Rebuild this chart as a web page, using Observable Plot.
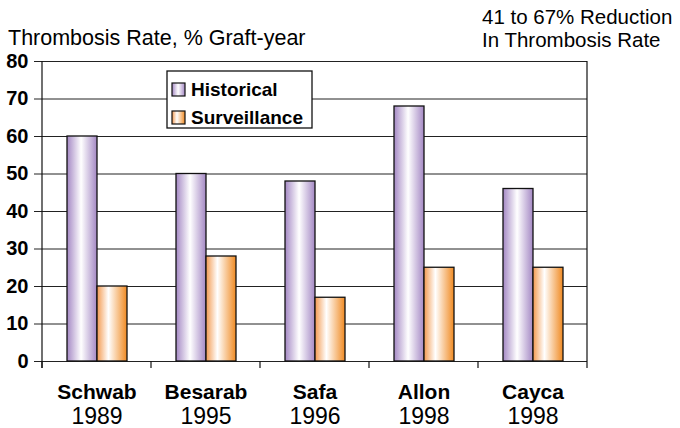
<!DOCTYPE html>
<html><head><meta charset="utf-8">
<script src="https://cdn.jsdelivr.net/npm/d3@7"></script>
<script src="https://cdn.jsdelivr.net/npm/@observablehq/plot@0.6"></script>
<style>body{margin:0;background:#fff;font-family:"Liberation Sans",Arial,Helvetica,sans-serif}</style>
</head><body><div id="chart"></div>
<script>
const studies = ["Schwab", "Besarab", "Safa", "Allon", "Cayca"];
const years = ["1989", "1995", "1996", "1998", "1998"];
const series = ["Historical", "Surveillance"];
const historical = [60, 50, 48, 68, 46];
const surveillance = [20, 28, 17, 25, 25];
const yTicks = [0, 10, 20, 30, 40, 50, 60, 70, 80];
const titleText = "Thrombosis Rate, % Graft-year";
const noteLines = ["41 to 67% Reduction", "In Thrombosis Rate"];

const rows = studies.flatMap((s, i) => [
  {study: s, series: "Historical", value: historical[i]},
  {study: s, series: "Surveillance", value: surveillance[i]}
]);
const labels = studies.map((s, i) => ({study: s, year: years[i]}));
const font = '"Liberation Sans", Arial, Helvetica, sans-serif';

const plot = Plot.plot({
  width: 680, height: 428,
  marginLeft: 41, marginRight: 92, marginTop: 61, marginBottom: 67,
  style: {fontFamily: font, background: "#fff", color: "#000", overflow: "visible"},
  fx: {domain: studies, padding: 0, axis: null},
  x: {domain: series, paddingInner: 0, paddingOuter: 0.765, axis: null},
  y: {domain: [0, 80], ticks: yTicks, axis: null},
  marks: [
    Plot.gridY(yTicks, {stroke: "#222", strokeOpacity: 1, strokeWidth: 1}),
    Plot.barY(rows.filter(d => d.series === "Historical"), {fx: "study", x: "series", y: "value", fill: "url(#gradHist)", stroke: "#111", strokeWidth: 1.3}),
    Plot.barY(rows.filter(d => d.series === "Surveillance"), {fx: "study", x: "series", y: "value", fill: "url(#gradSurv)", stroke: "#111", strokeWidth: 1.3}),
    Plot.axisY(yTicks, {label: null, tickSize: 8, tickPadding: 6, fontSize: 20, fontWeight: "bold", tickFormat: d => String(d), stroke: "#222"}),
    Plot.text(labels, {fx: "study", text: "study", frameAnchor: "bottom", lineAnchor: "bottom", dy: 37, fontSize: 21, fontWeight: "bold", fill: "#000"}),
    Plot.text(labels, {fx: "study", text: "year", frameAnchor: "bottom", lineAnchor: "bottom", dy: 62, fontSize: 23, fill: "#000"})
  ]
});
document.getElementById("chart").appendChild(plot);

const svg = d3.select(plot.tagName.toLowerCase() === "svg" ? plot : plot.querySelector("svg"));
const defs = svg.insert("defs", ":first-child");
function grad(id, stops) {
  const g = defs.append("linearGradient").attr("id", id).attr("x1", "0").attr("x2", "1").attr("y1", "0").attr("y2", "0");
  stops.forEach(([o, c]) => g.append("stop").attr("offset", o).attr("stop-color", c));
}
grad("gradHist", [[0, "#a488c4"], [0.47, "#ffffff"], [1, "#a488c4"]]);
grad("gradSurv", [[0, "#f39a50"], [0.38, "#ffffff"], [1, "#f08a22"]]);

const fx = plot.scale("fx");
const y = plot.scale("y");
const y0 = y.apply(0), yTop = y.apply(80);
const left = fx.apply(studies[0]);
const right = fx.apply(studies[studies.length - 1]) + fx.bandwidth;
const g = svg.append("g").attr("stroke", "#111").attr("stroke-width", 1.2);
g.append("line").attr("x1", left).attr("x2", left).attr("y1", yTop).attr("y2", y0 + 7);
g.append("line").attr("x1", right).attr("x2", right).attr("y1", yTop).attr("y2", y0 + 7);
studies.forEach(s => {
  const x = fx.apply(s);
  g.append("line").attr("x1", x).attr("x2", x).attr("y1", y0).attr("y2", y0 + 7);
});

// Title and note
const tg = svg.append("g").attr("font-family", font).attr("text-anchor", "start").attr("fill", "#000");
tg.append("text").attr("x", 8).attr("y", 45).attr("font-size", 21.5).text(titleText);
noteLines.forEach((t, i) => tg.append("text").attr("x", 482).attr("y", 24 + i * 23).attr("font-size", 20.5).text(t));

// Legend
const lg = svg.append("g").attr("font-family", font).attr("text-anchor", "start");
lg.append("rect").attr("x", 167).attr("y", 71).attr("width", 145).attr("height", 57).attr("fill", "#fff").attr("stroke", "#111").attr("stroke-width", 1.3);
const legendFills = ["url(#gradHist)", "url(#gradSurv)"];
series.forEach((s, i) => {
  lg.append("rect").attr("x", 172).attr("y", 83 + i * 28).attr("width", 13).attr("height", 13).attr("fill", legendFills[i]).attr("stroke", "#111").attr("stroke-width", 1.2);
  lg.append("text").attr("x", 191).attr("y", 96 + i * 28).attr("font-size", 19).attr("font-weight", "bold").attr("fill", "#000").text(s);
});
</script>
</body></html>
